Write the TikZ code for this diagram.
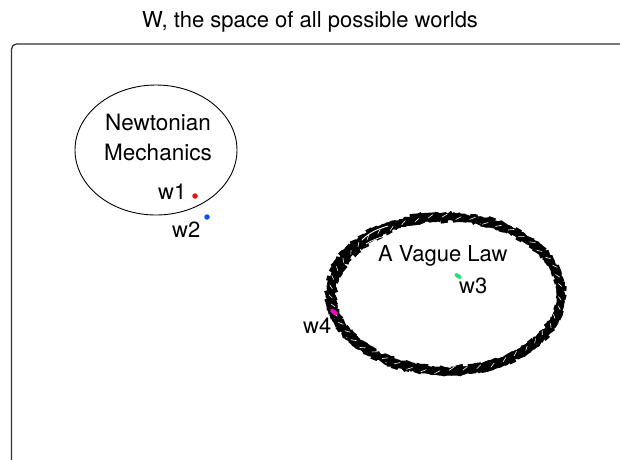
\documentclass[tikz,border=0pt]{standalone}
\usepackage{fontspec}
\setmainfont{TeX Gyre Heros}
\usetikzlibrary{decorations.pathmorphing,shapes.geometric}
\definecolor{dotred}{RGB}{235,20,20}
\definecolor{dotblue}{RGB}{20,80,230}
\definecolor{dotgreen}{RGB}{20,230,110}
\definecolor{dotmag}{RGB}{245,0,200}
\tikzset{
  lbl/.style={inner sep=0pt, font=\fontsize{22}{26}\selectfont},
  wdot/.style={ellipse, inner sep=0pt, minimum width=5.5pt, minimum height=5.5pt, draw=none},
  frameline/.style={line width=1.3pt, draw=black!80, rounded corners=5pt},
  bandseg/.style={line cap=butt, draw=black},
  sliver/.style={draw=white, line width=0.6pt, line cap=round},
}
\begin{document}
\begin{tikzpicture}[x=1pt,y=-1pt]
\clip (0,0) rectangle (620,459);
\fill[white] (0,0) rectangle (620,459);
% frame
\draw[frameline] (11.5,470) -- (11.5,44) -- (640,44);
% title
\node[lbl, anchor=base] (title) at (310,27) {W, the space of all possible worlds};
% Newtonian ellipse
\node[draw, ellipse, line width=0.9pt, minimum width=162pt, minimum height=130pt, inner sep=0pt] (newton) at (156,150) {};
\node[lbl, align=center, font=\fontsize{22.5}{30}\selectfont] (newtxt) at (158,137) {Newtonian\\Mechanics};
% vague law scribble
\node[coordinate] (vague) at (446,294) {};
\begin{scope}[shift={(vague)}]
\pgfmathsetseed{11}
\foreach \a in {0,3,...,357} {
  \pgfmathsetmacro\r{rand*1.5}
  \pgfmathsetmacro\q{rand*1.5}
  \pgfmathsetmacro\w{8.5+2.4*rand+4*exp(-((\a-215)/28)^2)+2*exp(-((\a-165)/25)^2)}
  \draw[bandseg, line width=\w pt] ({(115+\r)*cos(\a)},{(77+\r)*sin(\a)}) -- ({(115+\q)*cos(\a+3.6)},{(77+\q)*sin(\a+3.6)});
}
\draw[line width=2pt, decorate, decoration={random steps, segment length=3pt, amplitude=1.8pt}] (0,0) ellipse [x radius=118, y radius=80];
\draw[line width=2pt, decorate, decoration={random steps, segment length=3pt, amplitude=1.8pt}] (0,0) ellipse [x radius=112, y radius=74];
\foreach \a in {2,9,...,355} {
  \pgfmathsetmacro\r{rand*2}
  \draw[sliver] ({(113+\r)*cos(\a)},{(75+\r)*sin(\a)}) -- ({(116+\r)*cos(\a+2.5)},{(78+\r)*sin(\a+2.5)});
}
\end{scope}
% white slivers in the thick top-left part
\draw[sliver, line width=0.9pt] (362,240) .. controls (370,232) and (378,229) .. (388,226);
\draw[sliver, line width=0.7pt] (366,244) .. controls (372,240) and (378,238) .. (385,236);
\node[lbl, anchor=base west] (vtxt) at (378,261) {A Vague Law};
% worlds
\node[wdot, fill=dotred] (d1) at (195,196) {};
\node[lbl, anchor=base west] (w1) at (158,199) {w1};
\node[wdot, fill=dotblue] (d2) at (207,217) {};
\node[lbl, anchor=base west] (w2) at (172,237) {w2};
\node[wdot, fill=dotgreen, rotate=-35, minimum width=8pt, minimum height=4.2pt] (d3) at (458,276) {};
\node[lbl, anchor=base west] (w3) at (459,293) {w3};
\node[wdot, fill=dotmag, rotate=-35, minimum width=9pt, minimum height=4.6pt] (d4) at (334,312) {};
\node[lbl, anchor=base west] (w4) at (303,333) {w4};
\end{tikzpicture}
\end{document}
